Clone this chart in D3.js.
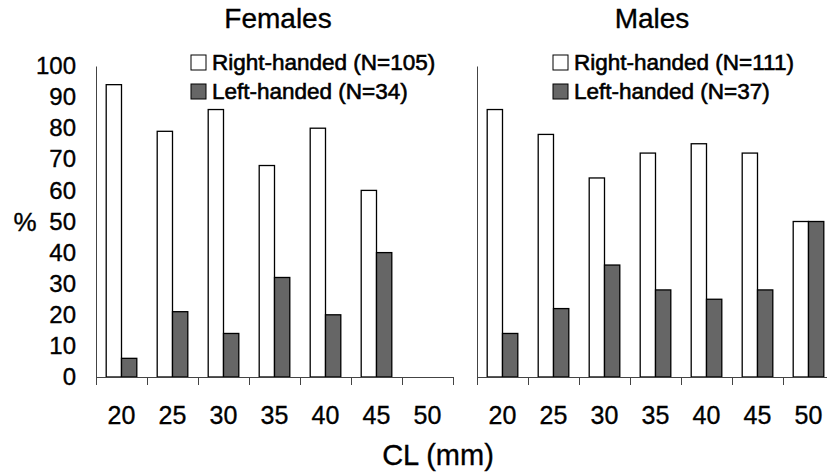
<!DOCTYPE html>
<html>
<head>
<meta charset="utf-8">
<script src="https://cdn.jsdelivr.net/npm/d3@7"></script>
<style>
  body { margin: 0; background: #fff; }
  svg { display: block; font-family: "Liberation Sans", Arial, sans-serif; }
  text { stroke: #000; stroke-width: 0.35px; }
</style>
</head>
<body>
<svg id="chart" width="827" height="472"></svg>
<script>
const categories = ["20", "25", "30", "35", "40", "45", "50"];
const yTicks = [0, 10, 20, 30, 40, 50, 60, 70, 80, 90, 100];

const femaleRight = [94, 79, 86, 68, 80, 60, 0];
const femaleLeft = [6, 21, 14, 32, 20, 40, 0];
const maleRight = [86, 78, 64, 72, 75, 72, 50];
const maleLeft = [14, 22, 36, 28, 25, 28, 50];

const panels = [
  { title: "Females", right: femaleRight, left: femaleLeft, nRight: 105, nLeft: 34, x0: 96, showY: true },
  { title: "Males", right: maleRight, left: maleLeft, nRight: 111, nLeft: 37, x0: 477, showY: false }
];

const svg = d3.select("#chart");
const bandW = 51;
const plotTop = 66, plotBottom = 377;

const y = d3.scaleLinear().domain([0, 100]).range([plotBottom, plotTop]);

panels.forEach(p => {
  const x = d3.scaleBand()
    .domain(categories)
    .range([p.x0, p.x0 + bandW * categories.length]);
  const xSub = d3.scaleBand()
    .domain(["right", "left"])
    .range([x.bandwidth() * 0.2, x.bandwidth() * 0.8]);
  // boundary ticks
  const xEdge = d3.scaleLinear()
    .domain([0, categories.length])
    .range(x.range());

  const g = svg.append("g");

  // y axis
  const yAxis = g.append("g")
    .attr("transform", "translate(" + p.x0 + ",0)")
    .call(d3.axisLeft(y).tickValues(yTicks).tickSize(0).tickPadding(20));
  yAxis.select(".domain").attr("stroke", "#444");
  yAxis.selectAll("text")
    .style("font-size", "24px")
    .attr("fill", "#000")
    .attr("opacity", p.showY ? 1 : 0);

  // bars
  const rows = categories.map((c, i) => ({ c, right: p.right[i], left: p.left[i] }));
  rows.forEach(r => {
    [["right", "#fff"], ["left", "#666"]].forEach(([k, fill]) => {
      if (!r[k]) return;
      g.append("rect")
        .attr("x", x(r.c) + xSub(k))
        .attr("y", y(r[k]))
        .attr("width", xSub.bandwidth())
        .attr("height", y(0) - y(r[k]))
        .attr("fill", fill)
        .attr("stroke", "#000")
        .attr("stroke-width", 1.3);
    });
  });

  // x axis: boundary ticks
  const xTicks = g.append("g")
    .attr("transform", "translate(0," + plotBottom + ")")
    .call(d3.axisBottom(xEdge).ticks(categories.length).tickSize(8).tickSizeOuter(8).tickFormat(""));
  xTicks.selectAll("path, line").attr("stroke", "#444");

  // x axis labels
  const xLab = g.append("g")
    .attr("transform", "translate(0," + plotBottom + ")")
    .call(d3.axisBottom(x).tickSize(0).tickPadding(29));
  xLab.select(".domain").remove();
  xLab.selectAll("text").style("font-size", "25px").attr("fill", "#000");

  // title
  g.append("text")
    .attr("x", p.x0 + (p.showY ? 182 : 175))
    .attr("y", 28)
    .attr("text-anchor", "middle")
    .style("font-size", "28px")
    .text(p.title);

  // legend
  const lx = p.x0 + (p.showY ? 95 : 76);
  const legend = [
    ["#fff", "Right-handed (N=" + p.nRight + ")"],
    ["#666", "Left-handed (N=" + p.nLeft + ")"]
  ];
  legend.forEach(([fill, label], i) => {
    const ly = 70 + i * 29;
    g.append("rect")
      .attr("x", lx)
      .attr("y", ly - 15)
      .attr("width", 15)
      .attr("height", 15)
      .attr("fill", fill)
      .attr("stroke", "#000")
      .attr("stroke-width", 1);
    g.append("text")
      .attr("x", lx + 21)
      .attr("y", ly)
      .style("font-size", "22.5px")
      .style("stroke-width", "0.6px")
      .text(label);
  });
});

// axis titles
svg.append("text")
  .attr("x", 25)
  .attr("y", 231)
  .attr("text-anchor", "middle")
  .style("font-size", "26px")
  .text("%");

svg.append("text")
  .attr("x", 438)
  .attr("y", 465)
  .attr("text-anchor", "middle")
  .style("font-size", "29px")
  .text("CL (mm)");
</script>
</body>
</html>
